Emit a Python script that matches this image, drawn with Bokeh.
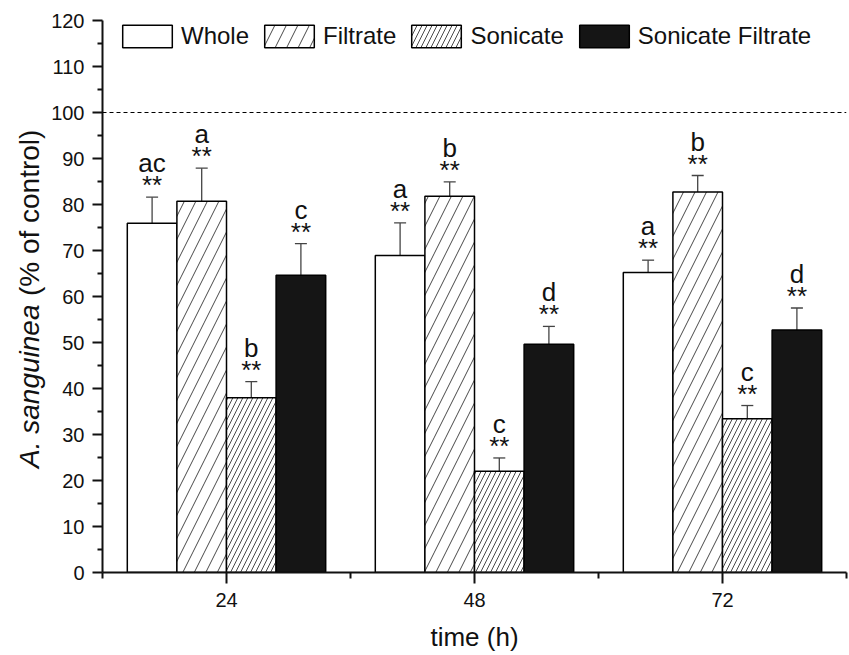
import math
from bokeh.plotting import figure
from bokeh.layouts import row
from bokeh.models import (ColumnDataSource, Legend, LegendItem, Span, Whisker, TeeHead,
                          FixedTicker, Range1d)
from bokeh.embed import file_html
from bokeh.resources import INLINE
from bokeh.core.properties import value

# ---------------- data ----------------
times = [24, 48, 72]
series = ["Whole", "Filtrate", "Sonicate", "Sonicate Filtrate"]

whole = [75.9, 68.9, 65.2]
whole_err = [5.7, 7.1, 2.7]
whole_letters = ["ac", "a", "a"]

filtrate = [80.7, 81.8, 82.7]
filtrate_err = [7.2, 3.1, 3.6]
filtrate_letters = ["a", "b", "b"]

sonicate = [38.0, 22.0, 33.4]
sonicate_err = [3.5, 2.9, 2.9]
sonicate_letters = ["b", "c", "c"]

son_filtrate = [64.6, 49.6, 52.7]
son_filtrate_err = [6.9, 3.9, 4.8]
son_filtrate_letters = ["c", "d", "d"]

signif = ["**", "**", "**"]
control_level = 100
y_ticks = list(range(0, 121, 10))
y_minor = list(range(5, 120, 10))
x_ticks = [24, 48, 72]
x_minor = [12, 36, 60, 84]
y_title_italic = "A. sanguinea"
y_title_rest = "(% of control)"
x_title = "time (h)"

# ---------------- styling ----------------
FONT = "Liberation Sans"
TXT = "#111111"
bar_w = 4.8
values = [whole, filtrate, sonicate, son_filtrate]
errs = [whole_err, filtrate_err, sonicate_err, son_filtrate_err]
letters = [whole_letters, filtrate_letters, sonicate_letters, son_filtrate_letters]
fills = ["white", "white", "white", "#151515"]
hatches = [None, "/", "/", None]
hscales = [12, 23, 10, 12]

LEFT_W = 48
H = 655

p = figure(width=849 - LEFT_W, height=H, x_range=Range1d(12, 84), y_range=Range1d(0, 120),
           output_backend="svg", toolbar_location=None,
           min_border_left=102 - LEFT_W, min_border_right=3, min_border_top=20,
           min_border_bottom=83)
p.outline_line_color = None
p.xgrid.visible = False
p.ygrid.visible = False
p.background_fill_color = "white"

p.add_layout(Span(location=control_level, dimension="width", line_dash="4 3",
                  line_color="black", line_width=1))

legend_items = []
for i, name in enumerate(series):
    off = (i - 1.5) * bar_w
    xs = [t + off for t in times]
    tops = [v + e for v, e in zip(values[i], errs[i])]
    src = ColumnDataSource(dict(x=xs, top=values[i], err=tops,
                                letter=letters[i], sig=signif))
    kw = {}
    if hatches[i]:
        kw = dict(hatch_pattern=hatches[i], hatch_scale=hscales[i],
                  hatch_color="#333333", hatch_weight=0.9)
    r = p.vbar(x="x", top="top", width=bar_w, source=src, fill_color=fills[i],
               line_color="black", line_width=1.5, **kw)
    legend_items.append(LegendItem(label=name, renderers=[r]))
    w = Whisker(base="x", lower="top", upper="err", source=src, line_color="#444444",
                line_width=1.3, lower_head=None,
                upper_head=TeeHead(size=12, line_color="#444444", line_width=1.3))
    p.add_layout(w)
    p.text(x="x", y="err", text="sig", source=src, y_offset=-12,
           text_align="center", text_baseline="alphabetic",
           text_font=value(FONT), text_font_size="26px", text_color=TXT)
    p.text(x="x", y="err", text="letter", source=src, y_offset=-34,
           text_align="center", text_baseline="alphabetic",
           text_font=value(FONT), text_font_size="26px", text_color=TXT)

legend = Legend(items=legend_items, orientation="horizontal", location=(14, 522),
                glyph_width=62, glyph_height=28, label_text_font_size="24px",
                label_text_font=FONT, label_text_color=TXT,
                label_standoff=3, spacing=9, padding=0, margin=0,
                border_line_color=None, background_fill_alpha=0)
p.add_layout(legend)

# axes
for ax in (p.xaxis[0], p.yaxis[0]):
    ax.axis_line_width = 2
    ax.axis_line_color = TXT
    ax.major_tick_line_width = 2
    ax.minor_tick_line_width = 2
    ax.major_tick_line_color = TXT
    ax.minor_tick_line_color = TXT
    ax.major_tick_in = 0
    ax.minor_tick_in = 0
    ax.major_label_text_font = FONT
    ax.major_label_text_font_size = "20px"
    ax.major_label_text_color = TXT

p.xaxis.ticker = FixedTicker(ticks=x_ticks, minor_ticks=x_minor)
p.xaxis.major_tick_out = 11
p.xaxis.minor_tick_out = 6
p.xaxis.major_label_standoff = 9
p.xaxis.axis_label = x_title
p.xaxis.axis_label_text_font = FONT
p.xaxis.axis_label_text_font_style = "normal"
p.xaxis.axis_label_text_font_size = "26px"
p.xaxis.axis_label_text_color = TXT
p.xaxis.axis_label_standoff = 12

p.yaxis.ticker = FixedTicker(ticks=y_ticks, minor_ticks=y_minor)
p.yaxis.major_tick_out = 10
p.yaxis.minor_tick_out = 5
p.yaxis.major_label_standoff = 8

# ---- narrow left panel holding the y-axis title (italic species name + rest) ----
pl = figure(width=LEFT_W, height=H, x_range=Range1d(0, LEFT_W), y_range=Range1d(0, H),
            output_backend="svg", toolbar_location=None, min_border=0,
            x_axis_location=None, y_axis_location=None)
pl.grid.visible = False
pl.outline_line_color = None
pl.text(x=[29], y=[124], text=[y_title_italic], angle=math.pi / 2,
        text_align="left", text_baseline="middle", text_font=value(FONT),
        text_font_style="italic", text_font_size="28px", text_color=TXT)
pl.text(x=[29], y=[328], text=[y_title_rest], angle=math.pi / 2,
        text_align="left", text_baseline="middle", text_font=value(FONT),
        text_font_size="28px", text_color=TXT)

layout = row(pl, p, spacing=0)
open("out.html", "w").write(file_html(layout, INLINE))
